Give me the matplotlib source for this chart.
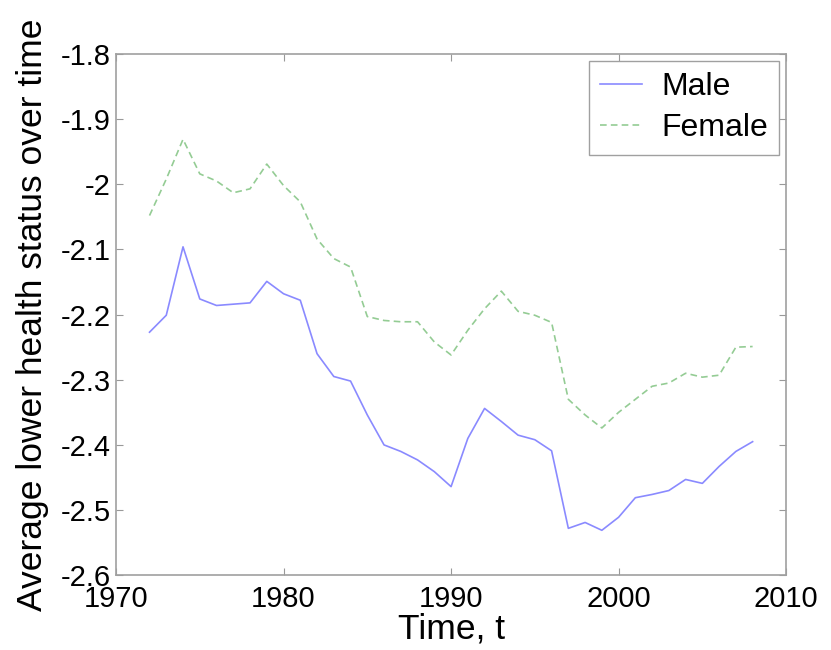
import matplotlib
matplotlib.use("Agg")
import matplotlib.pyplot as plt

years = list(range(1972, 2009))
male = [-2.227, -2.201, -2.096, -2.176, -2.186, -2.184, -2.182, -2.149, -2.168, -2.178,
        -2.260, -2.295, -2.302, -2.354, -2.400, -2.410, -2.423, -2.441, -2.464, -2.390,
        -2.344, -2.364, -2.385, -2.392, -2.409, -2.528, -2.519, -2.531, -2.511, -2.481,
        -2.476, -2.470, -2.453, -2.459, -2.433, -2.410, -2.395]
female = [-2.048, -1.992, -1.931, -1.984, -1.995, -2.013, -2.007, -1.969, -2.002, -2.027,
          -2.084, -2.114, -2.127, -2.203, -2.209, -2.211, -2.211, -2.242, -2.262, -2.224,
          -2.191, -2.164, -2.195, -2.201, -2.212, -2.330, -2.354, -2.374, -2.350, -2.330,
          -2.310, -2.305, -2.290, -2.296, -2.293, -2.250, -2.249]
xticks = [1970, 1980, 1990, 2000, 2010]
yticks = [-2.6, -2.5, -2.4, -2.3, -2.2, -2.1, -2.0, -1.9, -1.8]
ytick_labels = ["-2.6", "-2.5", "-2.4", "-2.3", "-2.2", "-2.1", "-2", "-1.9", "-1.8"]

plt.rcParams['font.family'] = ['Liberation Sans', 'DejaVu Sans']

fig = plt.figure(figsize=(8.31, 6.5), dpi=100)
ax = fig.add_axes([0.1396, 0.115, 0.8064, 0.802])

ax.plot(years, male, color='#8a8aff', lw=1.2, label='Male')
ax.plot(years, female, color='#94cc94', lw=1.2, ls=(0, (4, 2.5)), label='Female')

ax.set_xlim(1970, 2010)
ax.set_ylim(-2.6, -1.8)
ax.set_xticks(xticks)
ax.set_yticks(yticks)
ax.set_yticklabels(ytick_labels)
ax.tick_params(direction='in', length=5, width=0.8, color='#999999',
               top=True, right=True, labelsize=21)
ax.tick_params(axis='x', pad=7)
ax.tick_params(axis='y', pad=4)
for s in ax.spines.values():
    s.set_color('#a0a0a0')
    s.set_linewidth(1.2)

ax.set_xlabel('Time, t', fontsize=25.5, labelpad=0)
ax.set_ylabel('Average lower health status over time', fontsize=25.5, labelpad=8)

leg = ax.legend(loc='upper right', fontsize=23, fancybox=False, edgecolor='#a0a0a0',
                framealpha=1, handlelength=1.3, borderaxespad=0.22, labelspacing=0.35,
                borderpad=0.35, handletextpad=0.6)
leg.get_frame().set_linewidth(1.0)

fig.savefig('out.png', dpi=100)
